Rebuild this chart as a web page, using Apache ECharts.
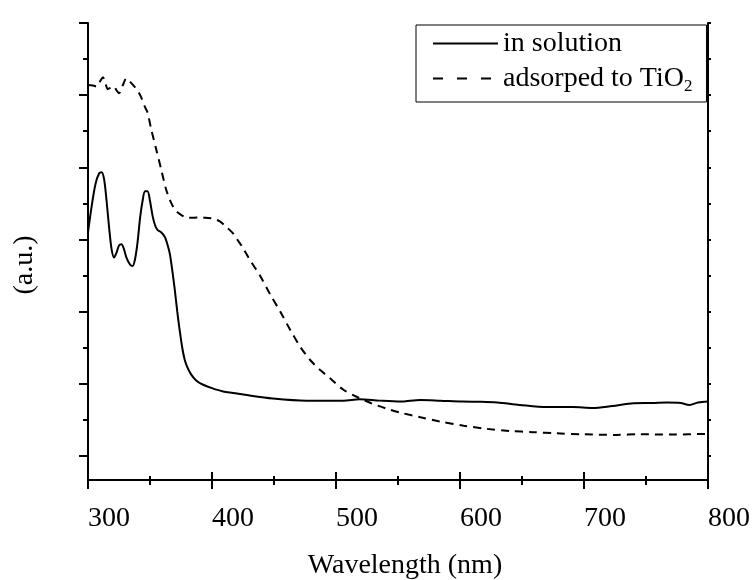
<!DOCTYPE html>
<html>
<head>
<meta charset="utf-8">
<script src="https://cdn.jsdelivr.net/npm/echarts@6/dist/echarts.min.js"></script>
<style>
  html, body { margin: 0; padding: 0; background: #fff; }
  #chart { width: 754px; height: 580px; }
</style>
</head>
<body>
<div id="chart"></div>
<script>
// ---- data (wavelength in nm, absorbance in arbitrary units) ----
const solutionNm = [300,303,306,309,311,313,315,317,319,321,323,325,327,329,331,334,336,338,340,342,344,346,348,350,352,354,356,359,362,364,366,368,370,372,374,376,378,380,383,387,392,400,409,417,428,449,476,506,519,535,552,568,584,602,617,630,648,670,691,707,723,740,755,767,778,785,792,800];
const solutionVal = [10.3,11.4,12.3,12.75,12.8,12.5,11.6,10.5,9.6,9.25,9.45,9.75,9.8,9.6,9.25,8.95,8.9,9.2,9.9,10.9,11.6,12.0,12.0,11.6,11.0,10.6,10.4,10.3,10.1,9.8,9.4,8.7,7.9,7.0,6.2,5.5,5.0,4.7,4.4,4.15,3.98,3.82,3.68,3.62,3.53,3.39,3.3,3.3,3.36,3.3,3.26,3.33,3.3,3.26,3.25,3.22,3.12,3.03,3.03,2.99,3.08,3.19,3.2,3.22,3.2,3.12,3.22,3.26];

const tio2Nm = [300,304,307,310,312,314,316,318,321,323,325,328,331,334,338,341,343,346,348,351,355,359,363,367,370,373,379,385,390,395,400,406,411,417,421,425,430,439,447,455,463,471,479,487,495,506,517,528,540,552,568,584,603,621,640,659,678,699,726,745,772,800];
const tio2Val = [16.42,16.4,16.36,16.6,16.74,16.5,16.25,16.3,16.36,16.2,16.08,16.4,16.7,16.55,16.32,16.1,15.9,15.5,15.28,14.58,13.75,12.92,12.08,11.53,11.25,11.1,10.92,10.9,10.92,10.9,10.88,10.76,10.55,10.25,9.95,9.65,9.2,8.47,7.71,7.01,6.25,5.55,5.0,4.58,4.24,3.75,3.45,3.2,2.98,2.8,2.61,2.43,2.26,2.13,2.04,1.99,1.94,1.9,1.875,1.9,1.89,1.92];

const seriesNames = ['in solution', 'adsorped to TiO2'];
const xMin = 300, xMax = 800, xStep = 100;
const yMin = 0, yMax = 19;
const yMajorTicks = [1, 4, 7, 10, 13, 16, 19];
const yMinorTicks = [2.5, 5.5, 8.5, 11.5, 14.5, 17.5];
const xTitle = 'Wavelength (nm)';
const yTitle = '(a.u.)';

// ---- chart ----
const FONT = '"Liberation Serif", "Times New Roman", serif';
const chart = echarts.init(document.getElementById('chart'), null, { renderer: 'canvas' });

const toPairs = (xs, ys) => xs.map((x, i) => [x, ys[i]]);
const axisLine = { show: true, lineStyle: { color: '#000', width: 2 } };

function yAxisDef(position, ticks, len, showLine) {
  return {
    type: 'value', min: yMin, max: yMax, position: position,
    axisLine: { show: showLine, onZero: false, lineStyle: { color: '#000', width: 2 } },
    axisTick: { show: true, inside: false, length: len, customValues: ticks, lineStyle: { color: '#000', width: 2 } },
    axisLabel: { show: false },
    splitLine: { show: false }
  };
}

const option = {
  backgroundColor: '#fff',
  animation: false,
  grid: { left: 88, right: 46, top: 23, bottom: 100, containLabel: false, outerBoundsMode: 'none' },
  legend: {
    orient: 'vertical',
    left: 416, top: 25,
    padding: [3, 14, 7, 16],
    itemGap: 4,
    itemWidth: 65, itemHeight: 14,
    borderColor: '#000', borderWidth: 1, borderRadius: 0,
    backgroundColor: '#fff',
    selectedMode: false,
    itemStyle: { opacity: 0 },
    data: [
      { name: seriesNames[0] },
      { name: seriesNames[1], lineStyle: { type: [10, 14] } }
    ],
    formatter: function (name) {
      return name === seriesNames[1] ? 'adsorped to TiO{sub|2}' : name;
    },
    textStyle: {
      fontFamily: FONT, fontSize: 28, color: '#000', lineHeight: 31,
      rich: { sub: { fontFamily: FONT, fontSize: 17, color: '#000', padding: [16, 0, 0, 0] } }
    }
  },
  xAxis: [
    {
      type: 'value', min: xMin, max: xMax, interval: xStep, position: 'bottom',
      name: xTitle, nameLocation: 'middle', nameGap: 72,
      nameTextStyle: { fontFamily: FONT, fontSize: 28, color: '#000', padding: [0, 0, 0, 14] },
      axisLine: axisLine,
      axisTick: { show: true, inside: false, length: 9, lineStyle: { color: '#000', width: 2 } },
      minorTick: { show: true, splitNumber: 2, length: 5, lineStyle: { color: '#000', width: 2 } },
      axisLabel: { show: true, align: 'left', margin: 25, fontFamily: FONT, fontSize: 28, color: '#000' },
      splitLine: { show: false }, minorSplitLine: { show: false }
    },
    {
      type: 'value', min: xMin, max: xMax, interval: xStep, position: 'top',
      axisLine: axisLine,
      axisTick: { show: true, inside: false, length: 8, lineStyle: { color: '#000', width: 2 } },
      minorTick: { show: true, splitNumber: 2, length: 4, lineStyle: { color: '#000', width: 2 } },
      axisLabel: { show: false },
      splitLine: { show: false }
    }
  ],
  yAxis: [
    yAxisDef('left', yMajorTicks, 9, true),
    yAxisDef('left', yMinorTicks, 5, false),
    yAxisDef('right', yMajorTicks.concat(yMinorTicks), 3, true)
  ],
  graphic: [
    {
      type: 'text', x: 25, y: 265, rotation: Math.PI / 2,
      style: { text: yTitle, fontFamily: FONT, fontSize: 28, fill: '#000', align: 'center', verticalAlign: 'middle' }
    }
  ],
  series: [
    {
      name: seriesNames[0], type: 'line', xAxisIndex: 0, yAxisIndex: 0,
      data: toPairs(solutionNm, solutionVal),
      symbol: 'none', smooth: 0.3,
      lineStyle: { color: '#000', width: 2, type: 'solid' },
      itemStyle: { color: '#000' }
    },
    {
      name: seriesNames[1], type: 'line', xAxisIndex: 0, yAxisIndex: 0,
      data: toPairs(tio2Nm, tio2Val),
      symbol: 'none', smooth: 0.3,
      lineStyle: { color: '#000', width: 2, type: [8, 6] },
      itemStyle: { color: '#000' }
    }
  ]
};
chart.setOption(option);
</script>
</body>
</html>
